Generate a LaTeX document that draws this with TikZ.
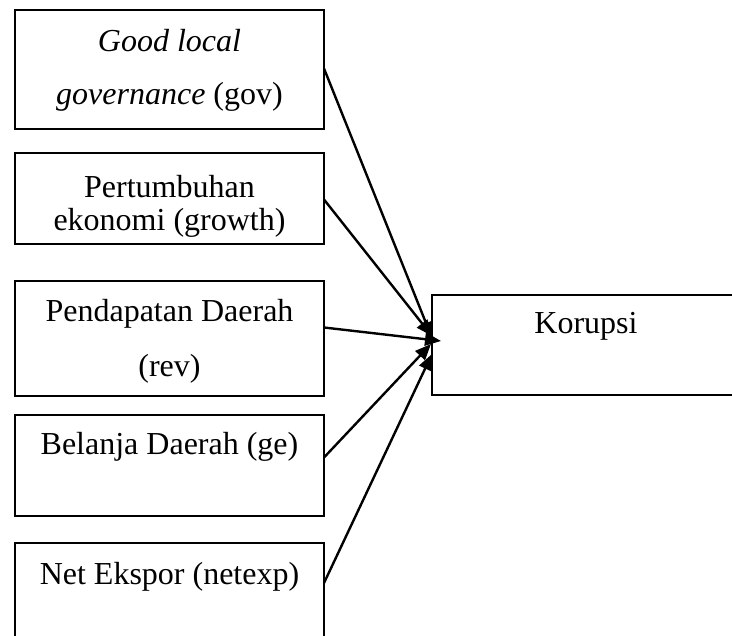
\documentclass[tikz,border=0pt]{standalone}
\usepackage{fontspec}
\setmainfont{Liberation Serif}
\usetikzlibrary{arrows.meta,calc}
\begin{document}
\begin{tikzpicture}[x=1pt,y=-1pt,
  box/.style={draw,line width=1.8pt,rectangle,inner sep=0pt,outer sep=0pt},
  lbl/.style={anchor=base,inner sep=0pt,font=\fontsize{32}{38}\selectfont},
  conn/.style={line width=2.4pt,-{Triangle[length=16pt,width=13pt]}}]
\useasboundingbox (0,0) rectangle (732,636);
\clip (0,0) rectangle (732,636);
\fill[white] (0,0) rectangle (732,636);
% boxes
\node[box,minimum width=309pt,minimum height=119pt] (gov) at (169.5,69.5) {};
\node[box,minimum width=309pt,minimum height=91pt] (growth) at (169.5,198.5) {};
\node[box,minimum width=309pt,minimum height=115pt] (rev) at (169.5,338.5) {};
\node[box,minimum width=309pt,minimum height=101pt] (ge) at (169.5,465.5) {};
\node[box,minimum width=309pt,minimum height=110pt] (netexp) at (169.5,598) {};
\node[box,minimum width=320pt,minimum height=100pt] (kor) at (592,345) {};
% labels
\node[lbl] (t1) at (169.5,52) {\itshape Good local};
\node[lbl] (t2) at (169.5,105) {\itshape governance\/ \upshape(gov)};
\node[lbl] (t3) at (169.5,198) {Pertumbuhan};
\node[lbl] (t4) at (169.5,231) {ekonomi (growth)};
\node[lbl] (t5) at (169.5,322) {Pendapatan Daerah};
\node[lbl] (t6) at (169.5,377) {(rev)};
\node[lbl] (t7) at (169.5,455) {Belanja Daerah (ge)};
\node[lbl] (t8) at (169.5,584) {Net Ekspor (netexp)};
\node[lbl] (t9) at (586,334) {Korupsi};
% arrow targets
\coordinate (a1) at (432,338);
\coordinate (a2) at (432,336);
\coordinate (a3) at (441,341);
\coordinate (a4) at (431,344);
\coordinate (a5) at (432,354);
% connectors
\draw[conn] ($(gov.east)+(0,-1)$) -- (a1);
\draw[conn] ($(growth.east)+(0,1)$) -- (a2);
\draw[conn] ($(rev.east)+(0,-11)$) -- (a3);
\draw[conn] ($(ge.east)+(0,-8)$) -- (a4);
\draw[conn] ($(netexp.east)+(0,-15)$) -- (a5);
\end{tikzpicture}
\end{document}
